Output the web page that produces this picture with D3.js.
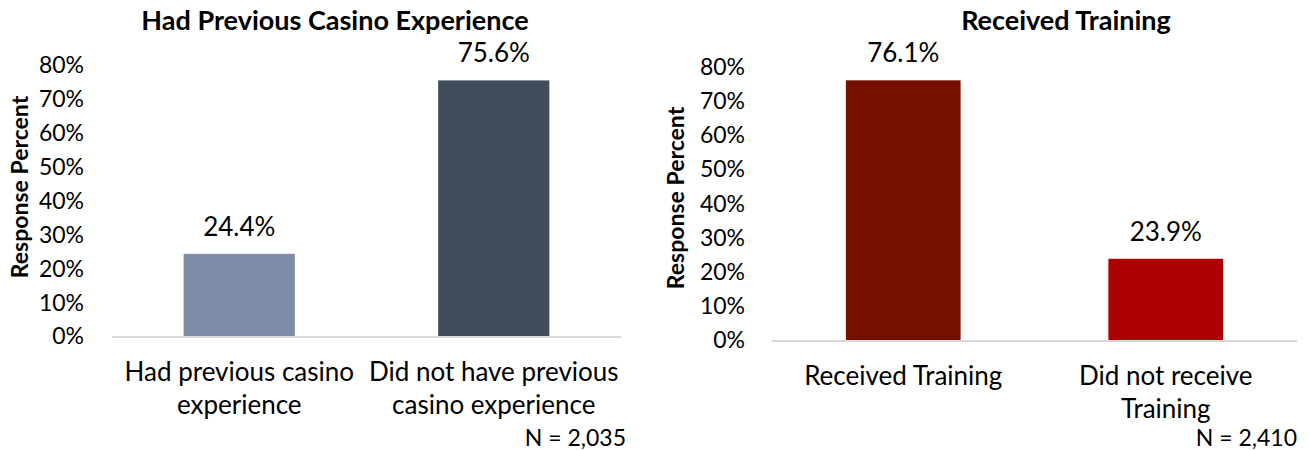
<!DOCTYPE html>
<html>
<head>
<meta charset="utf-8">
<script src="https://cdn.jsdelivr.net/npm/d3@7"></script>
<style>
  html, body { margin: 0; padding: 0; background: #fff; }
  svg { display: block; font-family: Lato, "Open Sans", sans-serif; }
</style>
</head>
<body>
<svg id="chart" width="1309" height="450"></svg>
<script>
// Survey results: previous casino experience
const casinoTitle = "Had Previous Casino Experience";
const casinoCategories = [["Had previous casino", "experience"], ["Did not have previous", "casino experience"]];
const casinoValues = [24.4, 75.6];
const casinoColors = ["#7f8ca8", "#424d5b"];
const casinoN = "N = 2,035";

// Survey results: training received
const trainingTitle = "Received Training";
const trainingCategories = [["Received Training"], ["Did not receive", "Training"]];
const trainingValues = [76.1, 23.9];
const trainingColors = ["#731000", "#ad0000"];
const trainingN = "N = 2,410";

const yTicks = [0, 10, 20, 30, 40, 50, 60, 70, 80];
const yAxisTitle = "Response Percent";

const svg = d3.select("#chart");

function drawPanel(opts) {
  const g = svg.append("g");
  const x = d3.scaleBand()
    .domain(opts.categories.map((d, i) => i))
    .range([opts.left, opts.right])
    .paddingInner(0).paddingOuter(0);
  const y = d3.scaleLinear().domain([0, 80]).range([opts.base, opts.top]);
  const barW = x.bandwidth() * 0.437;

  // y tick labels (no axis line, no tick marks)
  const yAxis = d3.axisLeft(y).tickValues(yTicks).tickFormat(d => d + "%").tickSize(0).tickPadding(0);
  const ya = g.append("g").attr("transform", `translate(${opts.tickX},0)`).call(yAxis);
  ya.select(".domain").remove();
  ya.selectAll("text").attr("font-size", 23).attr("fill", "#000")
    .attr("font-family", "Lato, 'Open Sans', sans-serif");

  // bars
  g.selectAll("rect.bar").data(opts.values).join("rect")
    .attr("class", "bar")
    .attr("x", (d, i) => x(i) + x.bandwidth() / 2 - barW / 2)
    .attr("y", d => y(d))
    .attr("width", barW)
    .attr("height", d => y(0) - y(d))
    .attr("fill", (d, i) => opts.colors[i]);

  // baseline
  g.append("line")
    .attr("x1", opts.left).attr("x2", opts.right)
    .attr("y1", y(0) + 0.5).attr("y2", y(0) + 0.5)
    .attr("stroke", "#d9d9d9").attr("stroke-width", 2);

  // value labels
  g.selectAll("text.val").data(opts.values).join("text")
    .attr("class", "val")
    .attr("x", (d, i) => x(i) + x.bandwidth() / 2)
    .attr("y", d => y(d) - 18)
    .attr("text-anchor", "middle")
    .attr("font-size", 26)
    .attr("fill", "#000")
    .text(d => d.toFixed(1) + "%");

  // category labels
  opts.categories.forEach((lines, i) => {
    const t = g.append("text")
      .attr("x", x(i) + x.bandwidth() / 2)
      .attr("y", y(0) + 44)
      .attr("text-anchor", "middle")
      .attr("font-size", 26)
      .attr("fill", "#000");
    lines.forEach((line, k) => {
      t.append("tspan").attr("x", x(i) + x.bandwidth() / 2).attr("dy", k === 0 ? 0 : 33).text(line);
    });
  });

  // sample size note
  g.append("text")
    .attr("x", opts.nX).attr("y", 446)
    .attr("text-anchor", "end")
    .attr("font-size", 23)
    .attr("fill", "#000")
    .text(opts.n);

  // title
  g.append("text")
    .attr("x", opts.titleX).attr("y", 30)
    .attr("text-anchor", "middle")
    .attr("font-size", 27).attr("font-weight", "bold")
    .attr("fill", "#000")
    .text(opts.title);

  // y axis title
  g.append("text")
    .attr("transform", `translate(${opts.yTitleX},${opts.yTitleY}) rotate(-90)`)
    .attr("text-anchor", "middle")
    .attr("font-size", 23).attr("font-weight", "bold")
    .attr("fill", "#000")
    .text(yAxisTitle);
}

drawPanel({
  title: casinoTitle, categories: casinoCategories, values: casinoValues,
  colors: casinoColors, n: casinoN,
  left: 112, right: 621, base: 336.5, top: 65.5,
  tickX: 84, nX: 626, titleX: 335, yTitleX: 28, yTitleY: 187
});

drawPanel({
  title: trainingTitle, categories: trainingCategories, values: trainingValues,
  colors: trainingColors, n: trainingN,
  left: 772, right: 1297, base: 340.5, top: 67,
  tickX: 745, nX: 1297, titleX: 1066, yTitleX: 684, yTitleY: 198
});
</script>
</body>
</html>
